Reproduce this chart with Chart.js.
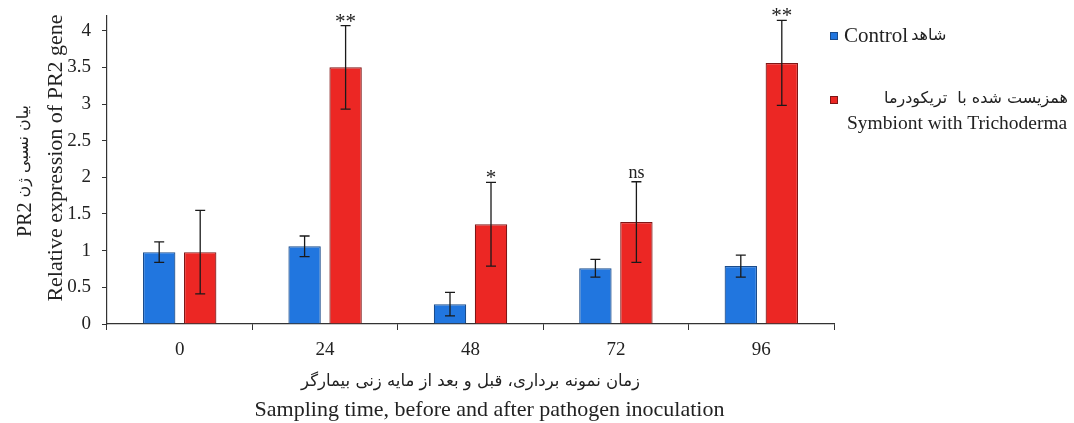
<!DOCTYPE html>
<html>
<head>
<meta charset="utf-8">
<script src="https://cdn.jsdelivr.net/npm/chart.js@4.4.1/dist/chart.umd.min.js"></script>
<style>
  html, body { margin: 0; padding: 0; background: #fff; }
  #box { width: 1074px; height: 423px; }
</style>
</head>
<body>
<div id="box"><canvas id="myChart1"></canvas></div>
<script>
// data
const hours = ['0', '24', '48', '72', '96'];
const control = [0.98, 1.06, 0.27, 0.76, 0.79];
const controlErr = [0.14, 0.14, 0.16, 0.12, 0.15];
const tricho = [0.98, 3.50, 1.36, 1.39, 3.56];
const trichoErr = [0.57, 0.57, 0.57, 0.55, 0.58];
const signif = ['', '**', '*', 'ns', '**'];
const yTickValues = [0, 0.5, 1, 1.5, 2, 2.5, 3, 3.5, 4];

// texts (latin and persian parts are set in different fonts)
const lblControlEn = 'Control';
const lblControlFa = 'شاهد';
const lblTrichoFa = 'همزیست شده با  تریکودرما';
const lblTrichoEn = 'Symbiont with Trichoderma';
const yTitleGene = 'PR2';
const yTitleFa = 'بیان نسبی ژن';
const yTitleEn = 'Relative expression of PR2 gene';
const xTitleFa = 'زمان نمونه برداری، قبل و بعد از مایه زنی بیمارگر';
const xTitleEn = 'Sampling time, before and after pathogen inoculation';

const fam = "'Liberation Serif', serif";
const famFa = "'DejaVu Sans', sans-serif";
const ink = '#222';

// error bars + significance marks
const errorBars = {
    id: 'errorBars',
    afterDatasetsDraw(chart) {
        const ctx = chart.ctx;
        const y = chart.scales.y;
        ctx.save();
        chart.data.datasets.forEach(function(ds, i) {
            const meta = chart.getDatasetMeta(i);
            meta.data.forEach(function(bar, j) {
                const v = ds.data[j], e = ds.errors[j];
                const top = y.getPixelForValue(v + e);
                const bot = y.getPixelForValue(v - e);
                ctx.strokeStyle = '#1a1a1a';
                ctx.lineWidth = 1.3;
                ctx.beginPath();
                ctx.moveTo(bar.x, top); ctx.lineTo(bar.x, bot);
                ctx.moveTo(bar.x - 5, top); ctx.lineTo(bar.x + 5, top);
                ctx.moveTo(bar.x - 5, bot); ctx.lineTo(bar.x + 5, bot);
                ctx.stroke();
                if (ds.marks && ds.marks[j]) {
                    const m = ds.marks[j];
                    ctx.fillStyle = ink;
                    ctx.textAlign = 'center';
                    ctx.textBaseline = 'alphabetic';
                    ctx.font = (m === 'ns' ? '18px ' : '21px ') + fam;
                    ctx.fillText(m, bar.x, m === 'ns' ? top - 4 : top + 2);
                }
            });
        });
        ctx.restore();
    }
};

// axis titles and legend, drawn by hand so the persian runs get their own size
const sideTexts = {
    id: 'sideTexts',
    afterDraw(chart) {
        const ctx = chart.ctx;
        const a = chart.chartArea;
        const ds = chart.data.datasets;
        const cx = (a.left + a.right) / 2;
        ctx.save();
        ctx.fillStyle = ink;
        ctx.textBaseline = 'middle';

        // x title
        ctx.textAlign = 'center';
        ctx.font = '16.5px ' + famFa;
        ctx.fillText(xTitleFa, cx, a.bottom + 58);
        ctx.font = '22px ' + fam;
        ctx.fillText(xTitleEn, cx + 19, a.bottom + 86);

        // y title, two rotated lines
        ctx.save();
        ctx.translate(56, (a.top + a.bottom) / 2 - 12);
        ctx.rotate(-Math.PI / 2);
        ctx.font = '22px ' + fam;
        ctx.fillText(yTitleEn, 0, 0);
        ctx.restore();

        ctx.save();
        ctx.translate(25, (a.top + a.bottom) / 2 + 1);
        ctx.rotate(-Math.PI / 2);
        ctx.textAlign = 'left';
        ctx.font = '20px ' + fam;
        const w1 = ctx.measureText(yTitleGene).width;
        ctx.font = '16px ' + famFa;
        const w2 = ctx.measureText(yTitleFa).width;
        const gap = 5;
        const start = -(w1 + gap + w2) / 2;
        ctx.font = '20px ' + fam;
        ctx.fillText(yTitleGene, start, 1);
        ctx.font = '16px ' + famFa;
        ctx.fillText(yTitleFa, start + w1 + gap, -1);
        ctx.restore();

        // legend
        const x0 = a.right - 4;
        ctx.fillStyle = ds[0].backgroundColor;
        ctx.fillRect(x0, a.top + 16, 8, 8);
        ctx.strokeStyle = ds[0].borderColor;
        ctx.lineWidth = 1;
        ctx.strokeRect(x0 + 0.5, a.top + 16.5, 7, 7);
        ctx.fillStyle = ink;
        ctx.textAlign = 'left';
        ctx.font = '21px ' + fam;
        ctx.fillText(lblControlEn, x0 + 14, a.top + 20);
        const wc = ctx.measureText(lblControlEn).width;
        ctx.font = '16px ' + famFa;
        ctx.fillText(lblControlFa, x0 + 17 + wc, a.top + 20);

        ctx.fillStyle = ds[1].backgroundColor;
        ctx.fillRect(x0, a.top + 80, 8, 8);
        ctx.strokeStyle = ds[1].borderColor;
        ctx.strokeRect(x0 + 0.5, a.top + 80.5, 7, 7);
        ctx.fillStyle = ink;
        ctx.textAlign = 'right';
        ctx.font = '16px ' + famFa;
        ctx.fillText(lblTrichoFa, 1068, a.top + 83);
        ctx.textAlign = 'left';
        ctx.font = '19.5px ' + fam;
        ctx.fillText(lblTrichoEn, x0 + 17, a.top + 108);
        ctx.restore();
    }
};

function pintar() {
    const ctx = document.getElementById('myChart1').getContext('2d');
    new Chart(ctx, {
        type: 'bar',
        data: {
            labels: hours,
            datasets: [
                {
                    label: lblControlEn,
                    data: control,
                    errors: controlErr,
                    backgroundColor: '#2176DF',
                    borderColor: '#1A4C8C',
                    borderWidth: 1.2
                },
                {
                    label: lblTrichoEn,
                    data: tricho,
                    errors: trichoErr,
                    marks: signif,
                    backgroundColor: '#EC2724',
                    borderColor: '#7E1616',
                    borderWidth: 1.2
                }
            ]
        },
        options: {
            responsive: true,
            maintainAspectRatio: false,
            animation: false,
            categoryPercentage: 0.564,
            barPercentage: 0.79,
            layout: { padding: { top: 16, right: 240, bottom: 0, left: 0 } },
            plugins: {
                legend: { display: false },
                tooltip: { enabled: false }
            },
            scales: {
                x: {
                    grid: { drawOnChartArea: false, tickLength: 6, color: '#333' },
                    border: { color: '#333', width: 1.2 },
                    ticks: { color: ink, padding: 9, font: { family: fam, size: 19 } },
                    afterFit: function(s) { s.height = 99; }
                },
                y: {
                    min: 0,
                    max: 4.2,
                    grid: { drawOnChartArea: false, tickLength: 5, color: '#333' },
                    border: { color: '#333', width: 1.2 },
                    ticks: {
                        stepSize: 0.5,
                        color: ink,
                        padding: 11,
                        font: { family: fam, size: 19 },
                        callback: function(v) { return String(v); }
                    },
                    afterBuildTicks: function(s) {
                        s.ticks = yTickValues.map(function(v) { return { value: v }; });
                    },
                    afterFit: function(s) {
                        s.width = 107;
                        s.paddingTop = 0;
                        s.paddingBottom = 0;
                    }
                }
            }
        },
        plugins: [errorBars, sideTexts]
    });
}
pintar();
</script>
</body>
</html>
